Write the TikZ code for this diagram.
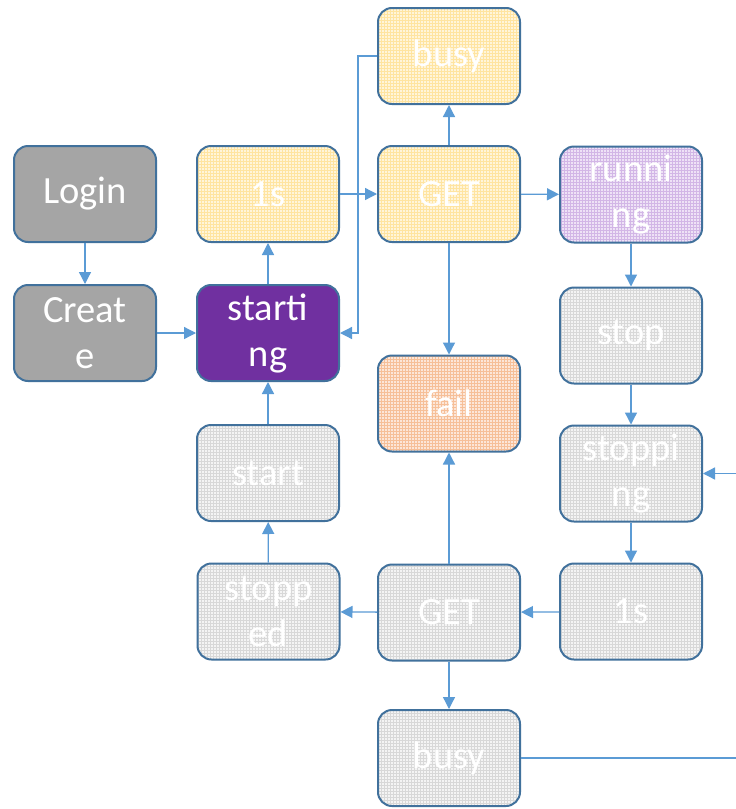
\documentclass[tikz,border=0pt]{standalone}
\usepackage{fontspec}
\setmainfont{Carlito}
\usetikzlibrary{arrows.meta,patterns}

\definecolor{edge}{HTML}{41719C}
\definecolor{link}{HTML}{5B9BD5}
\definecolor{solidgray}{HTML}{A5A5A5}
\definecolor{deeppurple}{HTML}{7030A0}
\definecolor{ybase}{HTML}{FFF5DA}
\definecolor{ygrid}{HTML}{FFE4A0}
\definecolor{obase}{HTML}{FCE6D8}
\definecolor{ogrid}{HTML}{F6BF98}
\definecolor{pbase}{HTML}{EEE2F6}
\definecolor{pgrid}{HTML}{D2B6E6}
\definecolor{gbase}{HTML}{F4F4F4}
\definecolor{ggrid}{HTML}{D8D8D8}

\tikzset{
  box/.style={draw=edge, line width=2pt, rounded corners=14pt,
    minimum width=142pt, minimum height=96pt, inner sep=0pt,
    align=center, text=white, font=\fontsize{38.5}{46}\selectfont},
  solidbox/.style={box, fill=solidgray},
  activebox/.style={box, fill=deeppurple},
  yellowbox/.style={box, preaction={fill=ybase}, pattern=grid, pattern color=ygrid},
  orangebox/.style={box, preaction={fill=obase}, pattern=grid, pattern color=ogrid},
  violetbox/.style={box, preaction={fill=pbase}, pattern=grid, pattern color=pgrid},
  greybox/.style={box, preaction={fill=gbase}, pattern=grid, pattern color=ggrid},
  flow/.style={draw=link, line width=1.3pt, -{Triangle[length=12pt,width=12pt]}},
  plain/.style={draw=link, line width=1.3pt}
}

\begin{document}
\begin{tikzpicture}[x=1pt,y=-1pt]
\clip (0,0) rectangle (736,809);
\fill[white] (0,0) rectangle (736,809);

% first column
\node[solidbox] (login) at (85,194) {Login};
\node[solidbox] (create) at (85,333) {Creat\\e};

% second column
\node[yellowbox] (wait1) at (268,194) {1s};
\node[activebox] (starting) at (268,333) {starti\\ng};
\node[greybox] (start) at (268,473) {start};
\node[greybox] (stopped) at (268.5,611.5) {stopp\\ed};

% third column
\node[yellowbox] (busyA) at (449,56) {busy};
\node[yellowbox] (getA) at (449,194) {GET};
\node[orangebox] (fail) at (449,403.5) {fail};
\node[greybox] (getB) at (449,612.5) {GET};
\node[greybox] (busyB) at (449,758) {busy};

% fourth column
\node[violetbox] (running) at (631,194.5) {runni\\ng};
\node[greybox] (stop) at (631,335.5) {stop};
\node[greybox] (stopping) at (631,473.5) {stoppi\\ng};
\node[greybox] (wait2) at (631,611.5) {1s};

\coordinate (jog) at (358,56);
\coordinate (farright) at (780,758);

% start-up path
\draw[flow] (login) -- (create);
\draw[flow] (create) -- (starting);
\draw[flow] (starting) -- (wait1);
\draw[flow] (wait1) -- (getA);
\draw[flow] (getA) -- (busyA);
\draw[flow] (busyA.west) -- (jog) |- (starting.east);
\draw[flow] (getA) -- (running);
\draw[flow] (getA) -- (fail);

% shut-down path
\draw[flow] (running) -- (stop);
\draw[flow] (stop) -- (stopping);
\draw[flow] (stopping) -- (wait2);
\draw[flow] (wait2) -- (getB);
\draw[flow] (getB) -- (fail);
\draw[flow] (getB) -- (stopped);
\draw[flow] (stopped) -- (start);
\draw[flow] (start) -- (starting);
\draw[flow] (getB) -- (busyB);
\draw[flow] (busyB.east) -- (farright) |- (stopping.east);
\end{tikzpicture}
\end{document}
